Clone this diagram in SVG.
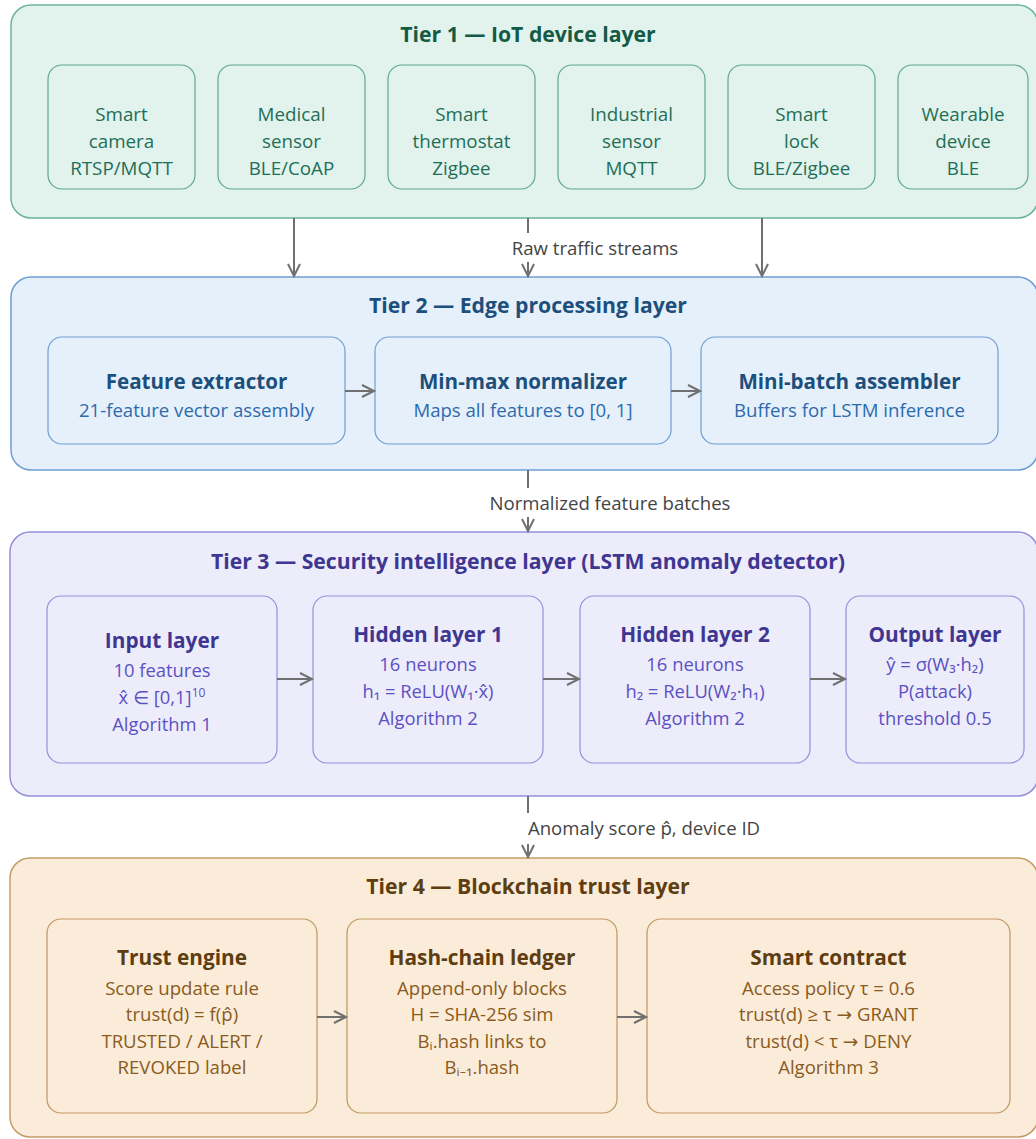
<svg xmlns="http://www.w3.org/2000/svg" width="1036" height="1139" viewBox="0 0 1036 1139">
<defs>
<marker id="arr" markerUnits="userSpaceOnUse" markerWidth="16" markerHeight="16" refX="13" refY="7" orient="auto">
<path d="M1,1 L13,7 L1,13" fill="none" stroke="#707070" stroke-width="2"/>
</marker>
<style>
text{font-family:"Open Sans","Noto Sans","DejaVu Sans",sans-serif;text-anchor:middle}
.conn{stroke:#707070;stroke-width:2;fill:none}
.lbl{font-size:18.6px;fill:#444}
.tier-title{font-size:21.2px;font-weight:700}
.t1{fill:#e1f3ec;stroke:#6db39a;stroke-width:1.5}
.n1{fill:#e1f3ec;stroke:#5fa88c;stroke-width:1.2}
.t1title{fill:#145a44}
.n1txt{font-size:18.8px;fill:#1f6e58}
.t2{fill:#e6f0fa;stroke:#6f9ed3;stroke-width:1.5}
.n2{fill:#e6f0fa;stroke:#6f9ed3;stroke-width:1.2}
.t2title{fill:#1d4f7c}
.n2head{font-size:20.6px;font-weight:700;fill:#1d4f7c}
.n2sub{font-size:18.6px;fill:#2d6aad}
.t3{fill:#edecfa;stroke:#9490dc;stroke-width:1.5}
.n3{fill:#edecfa;stroke:#9490dc;stroke-width:1.2}
.t3title{fill:#3e3690}
.n3head{font-size:20.8px;font-weight:700;fill:#3e3690}
.n3sub{font-size:18.4px;fill:#5b51c2}
.t4{fill:#faecd9;stroke:#c49c68;stroke-width:1.5}
.n4{fill:#faecd9;stroke:#bf9760;stroke-width:1.2}
.t4title{fill:#5e3d10}
.n4head{font-size:20.8px;font-weight:700;fill:#5e3d10}
.n4sub{font-size:18.6px;fill:#8a5b1d}
</style>
</defs>

<g id="tier1">
<rect class="t1" x="11" y="5" width="1027" height="213" rx="20"/>
<text class="tier-title t1title" x="528" y="42">Tier 1 — IoT device layer</text>
</g>
<g id="dev-camera">
<rect class="n1" x="48" y="65" width="147" height="124" rx="14"/>
<text class="n1txt" x="121.5" y="121">Smart</text>
<text class="n1txt" x="121.5" y="148">camera</text>
<text class="n1txt" x="121.5" y="175">RTSP/MQTT</text>
</g>
<g id="dev-medical">
<rect class="n1" x="218" y="65" width="147" height="124" rx="14"/>
<text class="n1txt" x="291.5" y="121">Medical</text>
<text class="n1txt" x="291.5" y="148">sensor</text>
<text class="n1txt" x="291.5" y="175">BLE/CoAP</text>
</g>
<g id="dev-thermostat">
<rect class="n1" x="388" y="65" width="147" height="124" rx="14"/>
<text class="n1txt" x="461.5" y="121">Smart</text>
<text class="n1txt" x="461.5" y="148">thermostat</text>
<text class="n1txt" x="461.5" y="175">Zigbee</text>
</g>
<g id="dev-industrial">
<rect class="n1" x="558" y="65" width="147" height="124" rx="14"/>
<text class="n1txt" x="631.5" y="121">Industrial</text>
<text class="n1txt" x="631.5" y="148">sensor</text>
<text class="n1txt" x="631.5" y="175">MQTT</text>
</g>
<g id="dev-lock">
<rect class="n1" x="728" y="65" width="147" height="124" rx="14"/>
<text class="n1txt" x="801.5" y="121">Smart</text>
<text class="n1txt" x="801.5" y="148">lock</text>
<text class="n1txt" x="801.5" y="175">BLE/Zigbee</text>
</g>
<g id="dev-wearable">
<rect class="n1" x="898" y="65" width="130" height="124" rx="14"/>
<text class="n1txt" x="963" y="121">Wearable</text>
<text class="n1txt" x="963" y="148">device</text>
<text class="n1txt" x="963" y="175">BLE</text>
</g>

<g id="tier2">
<rect class="t2" x="11" y="277" width="1027" height="193" rx="20"/>
<text class="tier-title t2title" x="528" y="313">Tier 2 — Edge processing layer</text>
</g>
<g id="feature-extractor">
<rect class="n2" x="48" y="337" width="297" height="107" rx="14"/>
<text class="n2head" x="196.5" y="389">Feature extractor</text>
<text class="n2sub" x="196.5" y="417">21-feature vector assembly</text>
</g>
<g id="normalizer">
<rect class="n2" x="375" y="337" width="296" height="107" rx="14"/>
<text class="n2head" x="523" y="389">Min-max normalizer</text>
<text class="n2sub" x="523" y="417">Maps all features to [0, 1]</text>
</g>
<g id="batch-assembler">
<rect class="n2" x="701" y="337" width="297" height="107" rx="14"/>
<text class="n2head" x="849.5" y="389">Mini-batch assembler</text>
<text class="n2sub" x="849.5" y="417">Buffers for LSTM inference</text>
</g>

<g id="tier3">
<rect class="t3" x="10" y="532" width="1028" height="264" rx="20"/>
<text class="tier-title t3title" x="528" y="569">Tier 3 — Security intelligence layer (LSTM anomaly detector)</text>
</g>
<g id="input-layer">
<rect class="n3" x="47" y="596" width="230" height="167" rx="14"/>
<text class="n3head" x="162" y="648">Input layer</text>
<text class="n3sub" x="162" y="677">10 features</text>
<text class="n3sub" x="162" y="704">x̂ ∈ [0,1]<tspan font-size="12" dy="-7">10</tspan></text>
<text class="n3sub" x="162" y="731">Algorithm 1</text>
</g>
<g id="hidden-1">
<rect class="n3" x="313" y="596" width="230" height="167" rx="14"/>
<text class="n3head" x="428" y="642">Hidden layer 1</text>
<text class="n3sub" x="428" y="671">16 neurons</text>
<text class="n3sub" x="428" y="698">h₁ = ReLU(W₁·x̂)</text>
<text class="n3sub" x="428" y="725">Algorithm 2</text>
</g>
<g id="hidden-2">
<rect class="n3" x="580" y="596" width="230" height="167" rx="14"/>
<text class="n3head" x="695" y="642">Hidden layer 2</text>
<text class="n3sub" x="695" y="671">16 neurons</text>
<text class="n3sub" x="695" y="698">h₂ = ReLU(W₂·h₁)</text>
<text class="n3sub" x="695" y="725">Algorithm 2</text>
</g>
<g id="output-layer">
<rect class="n3" x="846" y="596" width="178" height="167" rx="14"/>
<text class="n3head" x="935" y="642">Output layer</text>
<text class="n3sub" x="935" y="671">ŷ = σ(W₃·h₂)</text>
<text class="n3sub" x="935" y="698">P(attack)</text>
<text class="n3sub" x="935" y="725">threshold 0.5</text>
</g>

<g id="tier4">
<rect class="t4" x="10" y="858" width="1028" height="279" rx="20"/>
<text class="tier-title t4title" x="528" y="894">Tier 4 — Blockchain trust layer</text>
</g>
<g id="trust-engine">
<rect class="n4" x="47" y="919" width="270" height="194" rx="14"/>
<text class="n4head" x="182" y="965">Trust engine</text>
<text class="n4sub" x="182" y="995">Score update rule</text>
<text class="n4sub" x="182" y="1021">trust(d) = f(p̂)</text>
<text class="n4sub" x="182" y="1048">TRUSTED / ALERT /</text>
<text class="n4sub" x="182" y="1074">REVOKED label</text>
</g>
<g id="hash-ledger">
<rect class="n4" x="347" y="919" width="270" height="194" rx="14"/>
<text class="n4head" x="482" y="965">Hash-chain ledger</text>
<text class="n4sub" x="482" y="995">Append-only blocks</text>
<text class="n4sub" x="482" y="1021">H = SHA-256 sim</text>
<text class="n4sub" x="482" y="1048">Bᵢ.hash links to</text>
<text class="n4sub" x="482" y="1074">Bᵢ₋₁.hash</text>
</g>
<g id="smart-contract">
<rect class="n4" x="647" y="919" width="363" height="194" rx="14"/>
<text class="n4head" x="828.5" y="965">Smart contract</text>
<text class="n4sub" x="828.5" y="995">Access policy τ = 0.6</text>
<text class="n4sub" x="828.5" y="1021">trust(d) ≥ τ → GRANT</text>
<text class="n4sub" x="828.5" y="1048">trust(d) &lt; τ → DENY</text>
<text class="n4sub" x="828.5" y="1074">Algorithm 3</text>
</g>

<g id="connectors">
<line class="conn" x1="294" y1="218" x2="294" y2="276" marker-end="url(#arr)"/>
<line class="conn" x1="528" y1="218" x2="528" y2="276" marker-end="url(#arr)"/>
<line class="conn" x1="762" y1="218" x2="762" y2="276" marker-end="url(#arr)"/>
<rect x="506" y="233" width="178" height="29" fill="#fff"/>
<text class="lbl" x="595" y="255">Raw traffic streams</text>
<line class="conn" x1="345" y1="391" x2="374" y2="391" marker-end="url(#arr)"/>
<line class="conn" x1="671" y1="391" x2="700" y2="391" marker-end="url(#arr)"/>
<line class="conn" x1="528" y1="470" x2="528" y2="531" marker-end="url(#arr)"/>
<rect x="483" y="488" width="254" height="29" fill="#fff"/>
<text class="lbl" x="610" y="510">Normalized feature batches</text>
<line class="conn" x1="277" y1="679" x2="312" y2="679" marker-end="url(#arr)"/>
<line class="conn" x1="543" y1="679" x2="579" y2="679" marker-end="url(#arr)"/>
<line class="conn" x1="810" y1="679" x2="845" y2="679" marker-end="url(#arr)"/>
<line class="conn" x1="528" y1="796" x2="528" y2="857" marker-end="url(#arr)"/>
<rect x="519" y="813" width="250" height="31" fill="#fff"/>
<text class="lbl" x="644" y="835">Anomaly score p̂, device ID</text>
<line class="conn" x1="317" y1="1017" x2="346" y2="1017" marker-end="url(#arr)"/>
<line class="conn" x1="617" y1="1017" x2="646" y2="1017" marker-end="url(#arr)"/>
</g>
</svg>
